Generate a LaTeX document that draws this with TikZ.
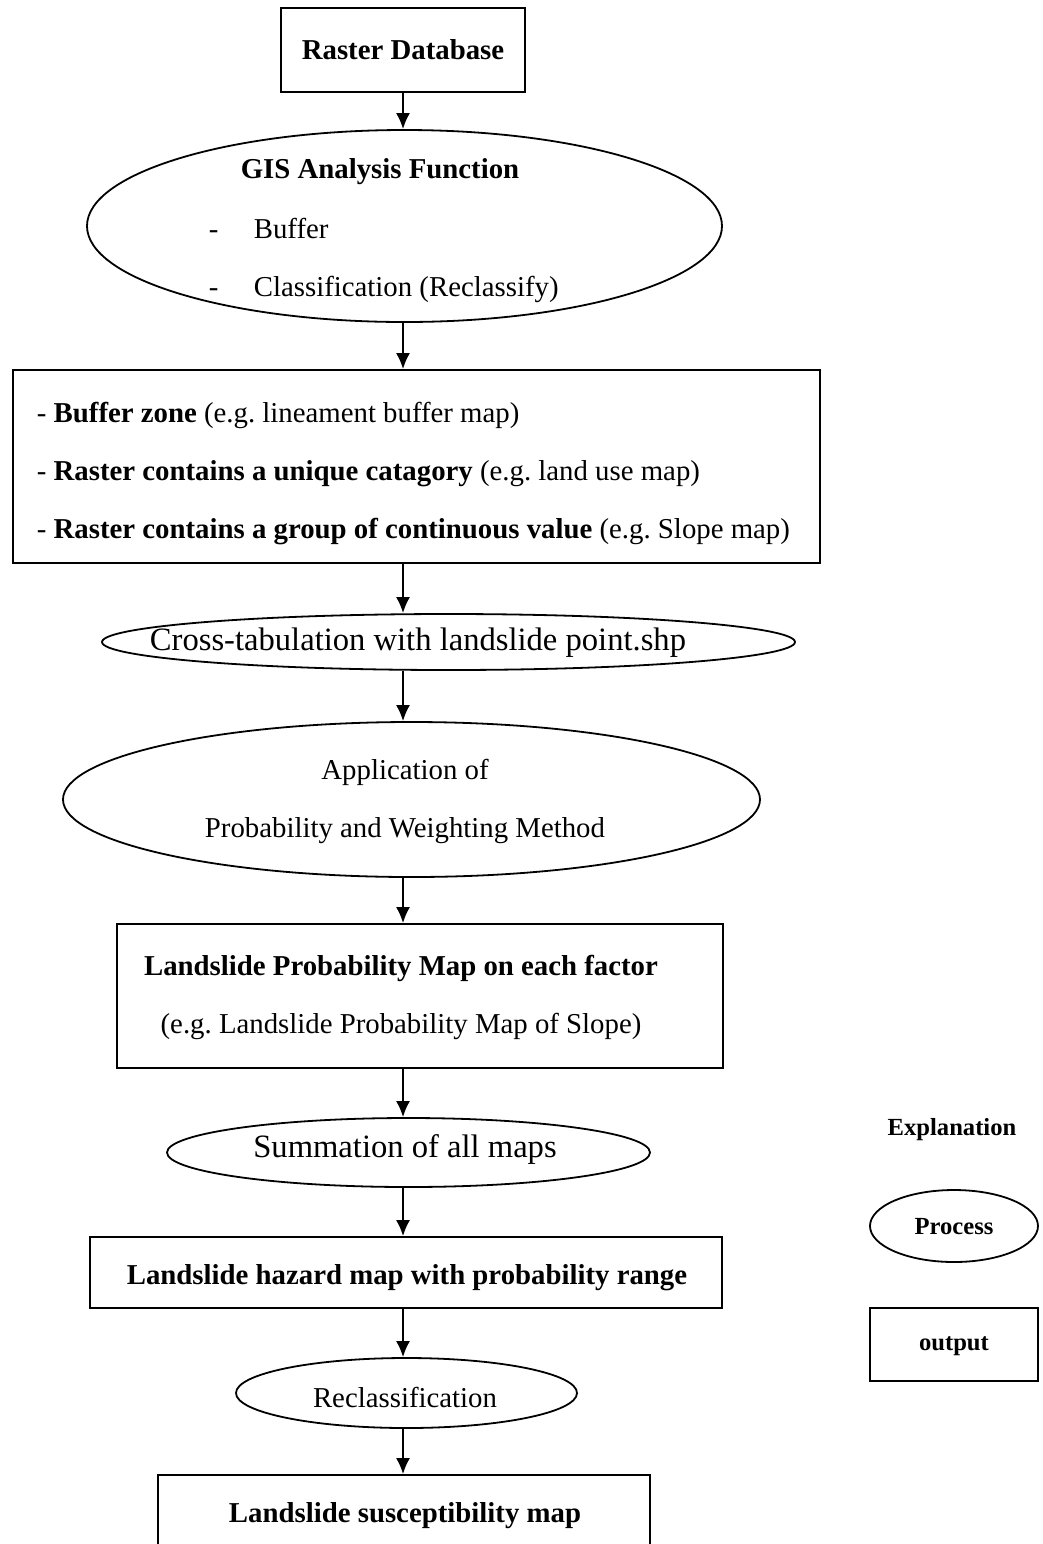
\documentclass[tikz,border=0pt]{standalone}
\usepackage{fontspec}
\setmainfont{Liberation Serif}
\usetikzlibrary{shapes.geometric,arrows.meta}
\frenchspacing

\begin{document}
\begin{tikzpicture}[x=0.5pt, y=-0.5pt, line width=0.9pt, every node/.style={align=center, font=\fontsize{14.4}{29}\selectfont}]
\tikzset{
  outbox/.style={draw, rectangle, inner sep=0pt},
  procell/.style={draw, ellipse, inner sep=0pt},
  txt/.style={inner sep=0pt},
  bigtxt/.style={inner sep=0pt, font=\fontsize{16.3}{19}\selectfont},
  legtxt/.style={inner sep=0pt, font=\fontsize{12.3}{14}\selectfont\bfseries},
  flow/.style={-{Latex[length=8pt, width=7pt]}}
}
\useasboundingbox (0,0) rectangle (1043,1544);
\coordinate (axis) at (403,0);

% Main chain
\node[outbox, minimum width=122pt, minimum height=42pt] (rdb) at (403,50) {\textbf{Raster Database}};

\node[procell, minimum width=317.5pt, minimum height=96pt] (gis) at (404.5,226) {};
\node[txt] (gis_title) at (380,172) {\textbf{GIS Analysis Function}};
\node[txt, align=left, anchor=west] (gis_items) at (208,260) {\makebox[22.5pt][l]{-}Buffer\\\makebox[22.5pt][l]{-}Classification (Reclassify)};

\node[outbox, minimum width=403.5pt, minimum height=96.5pt] (buf) at (416.5,466.5) {};
\node[txt, align=left, anchor=west] (buf_t) at (36,474) {- \textbf{Buffer zone} (e.g. lineament buffer map)\\- \textbf{Raster contains a unique catagory} (e.g. land use map)\\- \textbf{Raster contains a group of continuous value} (e.g. Slope map)};

\node[procell, minimum width=346.5pt, minimum height=28pt] (cross) at (448.5,642) {};
\node[bigtxt] (cross_t) at (418,643) {Cross-tabulation with landslide point.shp};

\node[procell, minimum width=348.5pt, minimum height=77.5pt] (appl) at (411.5,799.5) {};
\node[txt] (appl_t) at (405,801) {Application of\\Probability and Weighting Method};

\node[outbox, minimum width=303pt, minimum height=72pt] (prob) at (420,996) {};
\node[txt] (prob_t) at (401,997) {\textbf{Landslide Probability Map on each factor}\\(e.g. Landslide Probability Map of Slope)};

\node[procell, minimum width=241.5pt, minimum height=34.5pt] (summ) at (408.5,1152.5) {};
\node[bigtxt] (summ_t) at (405,1149) {Summation of all maps};

\node[outbox, minimum width=316pt, minimum height=35.5pt] (haz) at (406,1272.5) {};
\node[txt] (haz_t) at (407,1278) {\textbf{Landslide hazard map with probability range}};

\node[procell, minimum width=170.5pt, minimum height=35pt] (recl) at (406.5,1393) {};
\node[txt] (recl_t) at (405,1397) {Reclassification};

\node[outbox, minimum width=246pt, minimum height=45pt] (susc) at (404,1520) {};
\node[txt] (susc_t) at (405,1516) {\textbf{Landslide susceptibility map}};

\draw[flow] (rdb.south -| axis) -- (gis.north -| axis);
\draw[flow] (gis.south -| axis) -- (buf.north -| axis);
\draw[flow] (buf.south -| axis) -- (cross.north -| axis);
\draw[flow] (cross.south -| axis) -- (appl.north -| axis);
\draw[flow] (appl.south -| axis) -- (prob.north -| axis);
\draw[flow] (prob.south -| axis) -- (summ.north -| axis);
\draw[flow] (summ.south -| axis) -- (haz.north -| axis);
\draw[flow] (haz.south -| axis) -- (recl.north -| axis);
\draw[flow] (recl.south -| axis) -- (susc.north -| axis);

% Legend
\node[legtxt] (expl) at (952,1130) {Explanation};
\node[procell, minimum width=84pt, minimum height=36pt] (lproc) at (954,1226) {};
\node[legtxt] (lproc_t) at (954,1227) {Process};
\node[outbox, minimum width=84pt, minimum height=36.5pt] (lout) at (954,1344.5) {};
\node[legtxt] (lout_t) at (954,1346) {output};

\end{tikzpicture}
\end{document}
